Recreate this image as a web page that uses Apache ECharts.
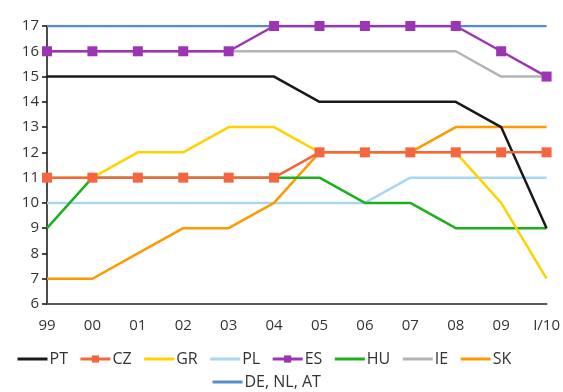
<!DOCTYPE html>
<html>
<head>
<meta charset="utf-8">
<script src="https://cdn.jsdelivr.net/npm/echarts@6/dist/echarts.min.js"></script>
<style>
  html, body { margin: 0; padding: 0; background: #fff; }
  #chart { width: 563px; height: 392px; }
</style>
</head>
<body>
<div id="chart"></div>
<script>
// Year labels along the x axis
const years = ['99', '00', '01', '02', '03', '04', '05', '06', '07', '08', '09', 'I/10'];

// Values per country
const PT = [15, 15, 15, 15, 15, 15, 14, 14, 14, 14, 13, 9];
const CZ = [11, 11, 11, 11, 11, 11, 12, 12, 12, 12, 12, 12];
const GR = [11, 11, 12, 12, 13, 13, 12, 12, 12, 12, 10, 7];
const PL = [10, 10, 10, 10, 10, 10, 10, 10, 11, 11, 11, 11];
const ES = [16, 16, 16, 16, 16, 17, 17, 17, 17, 17, 16, 15];
const HU = [9, 11, 11, 11, 11, 11, 11, 10, 10, 9, 9, 9];
const IE = [16, 16, 16, 16, 16, 16, 16, 16, 16, 16, 15, 15];
const SK = [7, 7, 8, 9, 9, 10, 12, 12, 12, 13, 13, 13];
const DE_NL_AT = [17, 17, 17, 17, 17, 17, 17, 17, 17, 17, 17, 17];

const FONT = '"Open Sans", "Noto Sans", sans-serif';

function line(name, data, color, opts) {
  opts = opts || {};
  return Object.assign({
    name: name,
    type: 'line',
    data: data,
    symbol: 'none',
    lineStyle: { color: color, width: 2.5 },
    itemStyle: { color: color },
    animation: false
  }, opts);
}

const series = [
  line('DE, NL, AT', DE_NL_AT, '#5a8ccb', { z: 1 }),
  line('IE', IE, '#b4b4b4', { z: 2 }),
  line('PL', PL, '#a8d8f0', { z: 2 }),
  line('SK', SK, '#ff9900', { z: 3 }),
  line('HU', HU, '#1db01d', { z: 3 }),
  line('GR', GR, '#ffd200', { z: 3 }),
  line('PT', PT, '#1a1a1a', { z: 4 }),
  line('CZ', CZ, '#f4663f', { z: 5, symbol: 'rect', symbolSize: 10, showSymbol: true }),
  line('ES', ES, '#9c34b4', { z: 6, symbol: 'rect', symbolSize: 10, showSymbol: true })
];

// Legend entries; plain lines hide the symbol so only the stroke shows
const withMarker = ['CZ', 'ES'];
function legendItems(names) {
  return names.map(n => withMarker.includes(n)
    ? { name: n }
    : { name: n, itemStyle: { opacity: 0 } });
}

const legendBase = {
  itemWidth: 30,
  itemHeight: 9,
  itemGap: 11,
  lineStyle: { width: 3 },
  textStyle: { color: '#333', fontSize: 16, fontFamily: FONT, padding: [0, 0, 0, -3] }
};

const chart = echarts.init(document.getElementById('chart'), null, { renderer: 'canvas' });
chart.setOption({
  backgroundColor: '#ffffff',
  grid: { left: 47, right: 14, top: 26, bottom: 88, containLabel: false },
  xAxis: {
    type: 'category',
    data: years,
    boundaryGap: false,
    axisLine: { lineStyle: { color: '#595959', width: 2 } },
    axisTick: { show: false },
    axisLabel: { color: '#333', fontSize: 15, fontFamily: FONT, margin: 14 },
    splitLine: { show: false }
  },
  yAxis: {
    type: 'value',
    min: 6,
    max: 17,
    interval: 1,
    axisLine: { show: true, lineStyle: { color: '#111', width: 1.5 } },
    axisTick: { show: true, length: 5, lineStyle: { color: '#111', width: 1.5 } },
    axisLabel: { color: '#333', fontSize: 15, fontFamily: FONT, margin: 8 },
    splitLine: { show: false }
  },
  legend: [
    Object.assign({}, legendBase, {
      data: legendItems(['PT', 'CZ', 'GR', 'PL', 'ES', 'HU', 'IE', 'SK']),
      left: 11,
      top: 346
    }),
    Object.assign({}, legendBase, {
      data: legendItems(['DE, NL, AT']),
      left: 206,
      top: 369
    })
  ],
  series: series
});
</script>
</body>
</html>
